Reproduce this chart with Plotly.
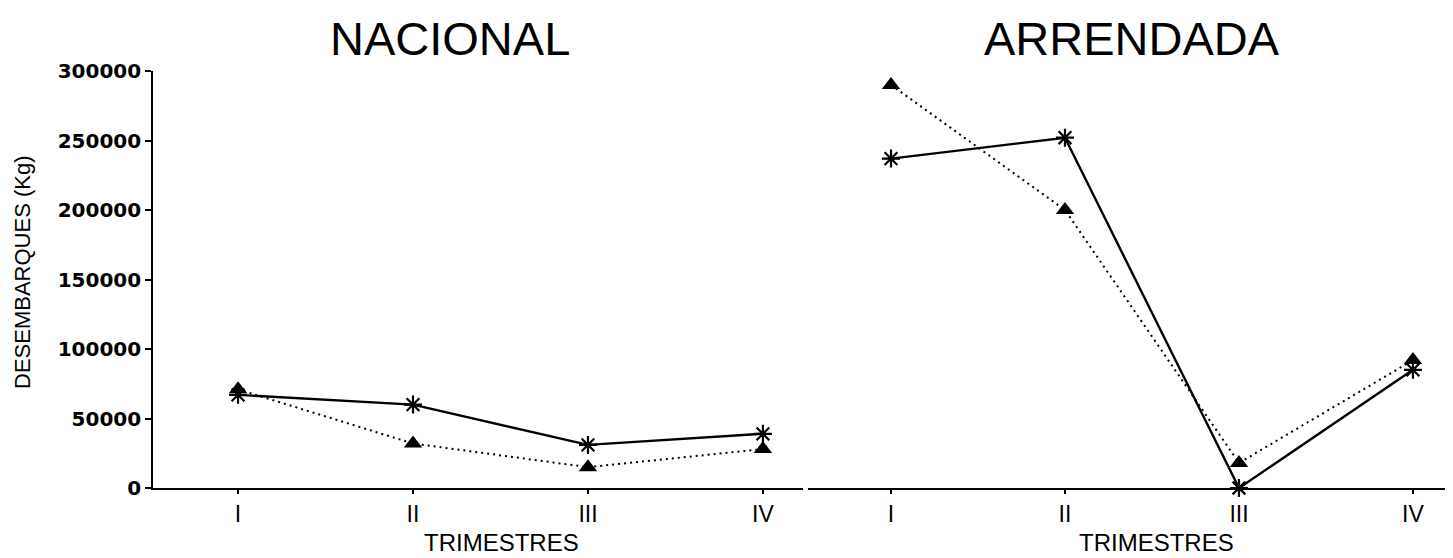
import plotly.graph_objects as go

trimestres = ["I", "II", "III", "IV"]
nacional_star = [67000, 60000, 31000, 39000]
nacional_tri = [71000, 32000, 15000, 28000]
arrendada_star = [237000, 252000, 0, 85000]
arrendada_tri = [290000, 200000, 18000, 92000]
panel_titles = ["NACIONAL", "ARRENDADA"]
y_ticks = [0, 50000, 100000, 150000, 200000, 250000, 300000]

# page has an 8px body margin: figure coordinates = page coordinates - 8
OFF = 8
W, H = 1453 - OFF, 558 - OFF
L, R, T = 153 - OFF, 0, 71 - OFF
B = H - (488 - OFF)
pw = W - L - R
ph = H - T - B

def px_x(p):  # page pixel -> paper
    return (p - OFF - L) / pw

def px_y(p):
    return (H - B - (p - OFF)) / ph

SANS = "Liberation Sans, Arial, sans-serif"

fig = go.Figure()

star_marker = dict(symbol="asterisk-open", size=15, color="black", line=dict(color="black", width=2.2))
tri_marker = dict(symbol="triangle-up", size=16, color="black", line=dict(color="black", width=0))

for xa, ya, s, t in [("x", "y", nacional_star, nacional_tri), ("x2", "y2", arrendada_star, arrendada_tri)]:
    fig.add_trace(go.Scatter(x=trimestres, y=t, xaxis=xa, yaxis=ya, mode="lines+markers",
                             line=dict(color="black", width=2, dash="2px,4px"), marker=tri_marker,
                             cliponaxis=False, showlegend=False))
    fig.add_trace(go.Scatter(x=trimestres, y=s, xaxis=xa, yaxis=ya, mode="lines+markers",
                             line=dict(color="black", width=2.4), marker=star_marker,
                             cliponaxis=False, showlegend=False))

xcommon = dict(type="category", showgrid=False, zeroline=False, showline=True, linecolor="black",
               linewidth=2.2, ticks="outside", ticklen=4, tickwidth=1.5, tickcolor="black",
               tickfont=dict(family=SANS, size=23, color="black"))

fig.update_layout(
    width=W, height=H,
    margin=dict(l=L, r=R, t=T, b=B),
    paper_bgcolor="white", plot_bgcolor="white",
    xaxis=dict(xcommon, domain=[0, px_x(803)], range=[-0.486, 3.229], anchor="y"),
    xaxis2=dict(xcommon, domain=[px_x(808), 1], range=[-0.477, 3.23], anchor="y2"),
    yaxis=dict(domain=[0, 1], range=[0, 300000], tickvals=y_ticks, tickformat="d",
               showgrid=False, zeroline=False, showline=True, linecolor="black", linewidth=1.6,
               ticks="outside", ticklen=6, tickwidth=1.5, tickcolor="black",
               tickfont=dict(family="DejaVu Sans", size=20, color="black", weight="bold"),
               anchor="x"),
    yaxis2=dict(domain=[0, 1], range=[0, 300000], matches="y", visible=False, anchor="x2"),
)

anns = [
    dict(text=panel_titles[0], x=px_x(450), y=px_y(38), size=47),
    dict(text=panel_titles[1], x=px_x(1132), y=px_y(38), size=47),
    dict(text="TRIMESTRES", x=px_x(501), y=px_y(542), size=24),
    dict(text="TRIMESTRES", x=px_x(1156), y=px_y(542), size=24),
]
for a in anns:
    fig.add_annotation(text=a["text"], x=a["x"], y=a["y"], xref="paper", yref="paper",
                       showarrow=False, xanchor="center", yanchor="middle",
                       font=dict(family=SANS, size=a["size"], color="black"))

fig.add_annotation(text="DESEMBARQUES (Kg)", x=px_x(22), y=px_y(272), xref="paper", yref="paper",
                   showarrow=False, textangle=-90, xanchor="center", yanchor="middle",
                   font=dict(family=SANS, size=22, color="black"))

fig.write_html("out.html")
